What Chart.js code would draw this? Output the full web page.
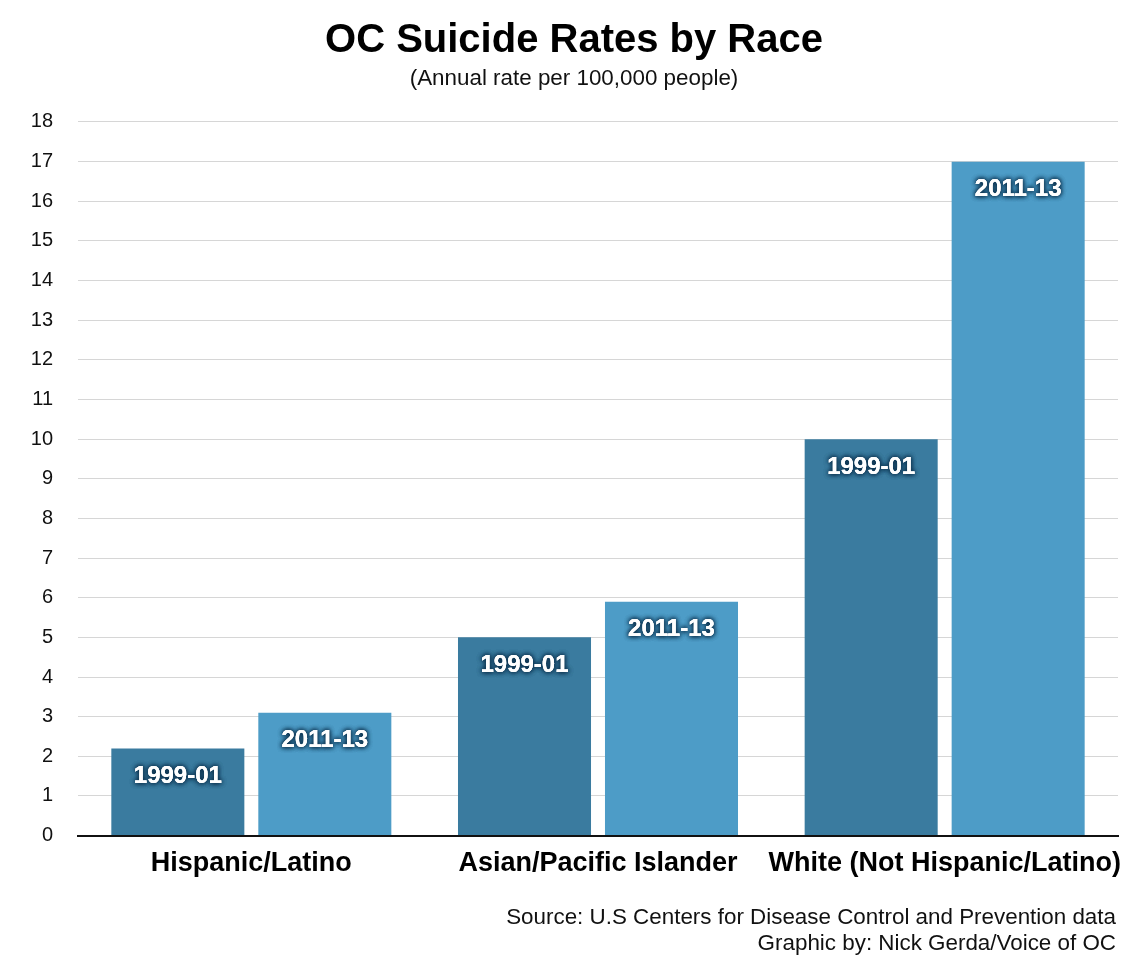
<!DOCTYPE html>
<html>
<head>
<meta charset="utf-8">
<script src="https://cdn.jsdelivr.net/npm/chart.js@4"></script>
<style>
  html, body { margin: 0; padding: 0; background: #ffffff; }
  #wrap { width: 1148px; height: 966px; }
</style>
</head>
<body>
<div id="wrap"><canvas id="c" width="1148" height="966"></canvas></div>
<script>
const categories = ['Hispanic/Latino', 'Asian/Pacific Islander', 'White (Not Hispanic/Latino)'];
const seriesNames = ['1999-01', '2011-13'];
const rates1999 = [2.2, 5.0, 10.0];
const rates2011 = [3.1, 5.9, 17.0];
const yTicks = [0, 1, 2, 3, 4, 5, 6, 7, 8, 9, 10, 11, 12, 13, 14, 15, 16, 17, 18];
const titleText = 'OC Suicide Rates by Race';
const subtitleText = '(Annual rate per 100,000 people)';
const footerLines = ['Source: U.S Centers for Disease Control and Prevention data', 'Graphic by: Nick Gerda/Voice of OC'];

const FONT = '"Liberation Sans", Arial, Helvetica, sans-serif';

const barLabelPlugin = {
  id: 'barLabels',
  afterDatasetsDraw(chart) {
    const ctx = chart.ctx;
    ctx.save();
    ctx.font = 'bold 24px ' + FONT;
    ctx.textAlign = 'center';
    ctx.textBaseline = 'middle';
    chart.data.datasets.forEach((ds, di) => {
      const meta = chart.getDatasetMeta(di);
      meta.data.forEach((bar) => {
        const x = bar.x;
        const y = bar.y + 28;
        ctx.shadowColor = 'rgba(14,52,80,1)';
        ctx.shadowBlur = 5;
        ctx.shadowOffsetX = 0;
        ctx.shadowOffsetY = 0;
        ctx.fillStyle = '#ffffff';
        ctx.fillText(ds.label, x, y);
        ctx.fillText(ds.label, x, y);
        ctx.fillText(ds.label, x, y);
        ctx.shadowBlur = 0;
        ctx.fillText(ds.label, x, y);
      });
    });
    ctx.restore();
  }
};

const footerPlugin = {
  id: 'footer',
  afterDraw(chart) {
    const ctx = chart.ctx;
    ctx.save();
    ctx.font = '22.4px ' + FONT;
    ctx.fillStyle = '#111111';
    ctx.textAlign = 'right';
    ctx.textBaseline = 'middle';
    ctx.fillText(footerLines[0], 1116, 918);
    ctx.fillText(footerLines[1], 1116, 944);
    ctx.restore();
  }
};

new Chart(document.getElementById('c'), {
  type: 'bar',
  data: {
    labels: categories,
    datasets: [
      { label: seriesNames[0], data: rates1999, backgroundColor: '#3a7b9f', borderWidth: 0 },
      { label: seriesNames[1], data: rates2011, backgroundColor: '#4d9cc7', borderWidth: 0 }
    ]
  },
  options: {
    responsive: false,
    animation: false,
    devicePixelRatio: 1,
    layout: { padding: { left: 30, right: 30, top: 0, bottom: 74 } },
    datasets: { bar: { categoryPercentage: 0.848, barPercentage: 0.905 } },
    plugins: {
      legend: { display: false },
      tooltip: { enabled: false },
      title: {
        display: true,
        text: titleText,
        color: '#000000',
        font: { family: FONT, size: 40, weight: 'bold', lineHeight: 1.2 },
        padding: { top: 17, bottom: 0 }
      },
      subtitle: {
        display: true,
        text: subtitleText,
        color: '#111111',
        font: { family: FONT, size: 22.4, lineHeight: 1.2 },
        padding: { top: 0, bottom: 30.1 }
      }
    },
    scales: {
      x: {
        grid: { display: false, drawTicks: false },
        border: { display: true, color: '#111111', width: 2 },
        ticks: {
          color: '#000000',
          font: { family: FONT, size: 27, weight: 'bold' },
          padding: 12,
          maxRotation: 0,
          autoSkip: false
        }
      },
      y: {
        min: 0,
        max: 18,
        afterFit(scale) { scale.width = 48; },
        afterBuildTicks(scale) { scale.ticks = yTicks.map(v => ({ value: v })); },
        grid: { color: '#d6d6d6', lineWidth: 1, drawTicks: false },
        border: { display: false },
        ticks: {
          color: '#111111',
          font: { family: FONT, size: 20 },
          padding: 25
        }
      }
    }
  },
  plugins: [barLabelPlugin, footerPlugin]
});
</script>
</body>
</html>
